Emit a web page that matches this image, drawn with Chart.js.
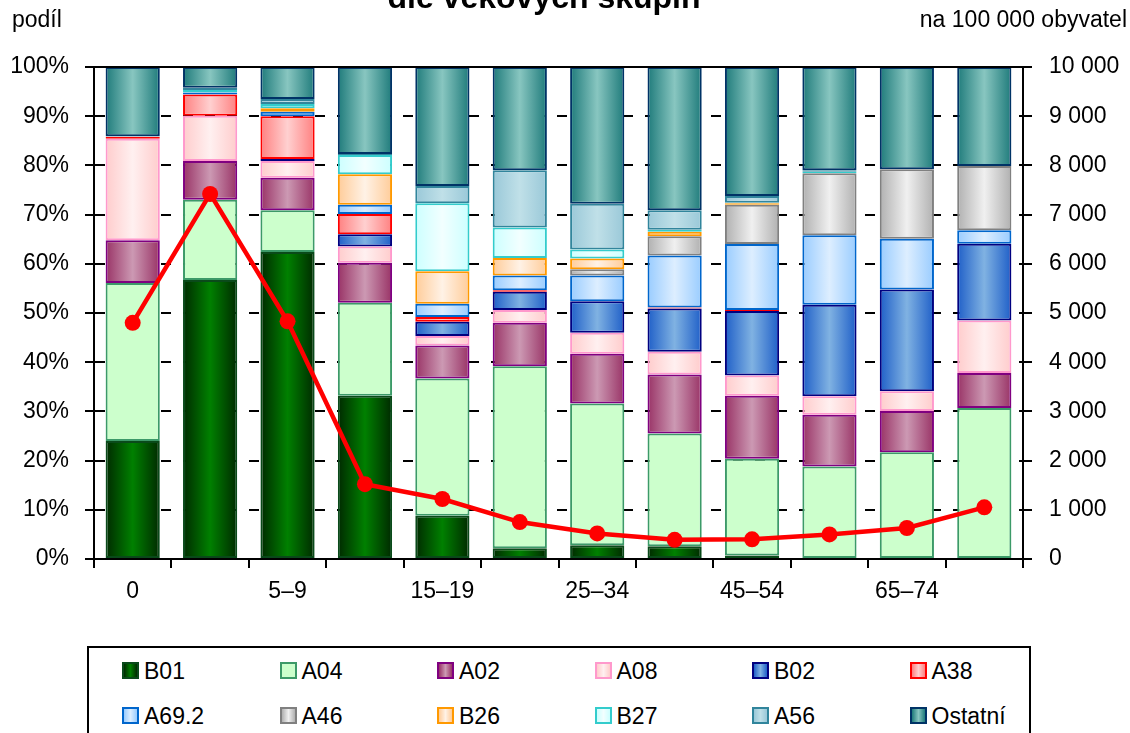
<!DOCTYPE html>
<html>
<head>
<meta charset="utf-8">
<script src="https://cdn.jsdelivr.net/npm/chart.js@4/dist/chart.umd.min.js"></script>
<style>
  html, body { margin:0; padding:0; background:#fff; }
  #wrap { position:relative; width:1130px; height:733px; overflow:hidden; font-family:"Liberation Sans", Arial, sans-serif; }
  #c { position:absolute; left:0; top:0; }
  #legend { position:absolute; left:87px; top:646px; width:944px; height:110px; border:2px solid #000; box-sizing:border-box; background:#fff; }
  .li { position:absolute; font-size:23px; line-height:23px; color:#000; white-space:nowrap; }
  .sw { display:inline-block; width:13px; height:13px; border:2px solid; vertical-align:middle; margin-right:5px; position:relative; top:-2px; }
</style>
</head>
<body>
<div id="wrap">
  <canvas id="c" width="1130" height="733"></canvas>
  <div id="legend"></div>
</div>
<script>
// ---- data ----
const categories = ['0','1–4','5–9','10–14','15–19','20–24','25–34','35–44','45–54','55–64','65–74','75+'];
const seriesNames = ['B01','A04','A02','A08','B02','A38','A69.2','A46','B26','B27','A56','Ostatní'];

const B01    = [24.0, 56.7, 62.4, 33.2,  8.8,  2.2,  2.8,  2.6,  0.7,  0.0,  0.0,  0.0];
const A04    = [32.1, 16.3,  8.5, 18.9, 27.9, 37.0, 28.8, 22.9, 19.7, 18.8, 21.7, 30.7];
const A02    = [ 8.7,  7.9,  6.6,  8.1,  6.7,  8.8, 10.1, 12.0, 12.8, 10.5,  8.4,  7.1];
const A08    = [20.6,  9.2,  3.4,  3.3,  1.9,  2.6,  4.3,  4.6,  4.1,  3.8,  4.0, 10.7];
const B02    = [ 0.0,  0.0,  0.4,  2.5,  2.9,  3.7,  6.4,  8.8, 13.1, 18.6, 20.7, 15.6];
const A38    = [ 0.4,  4.3,  8.7,  4.1,  1.0,  0.3,  0.0,  0.2,  0.2,  0.0,  0.0,  0.0];
const A69_2  = [ 0.0,  0.4,  0.9,  1.9,  2.7,  3.0,  5.2, 10.6, 13.4, 14.1, 10.3,  2.7];
const A46    = [ 0.0,  0.0,  0.0,  0.0,  0.0,  0.0,  1.3,  3.9,  8.0, 12.6, 14.1, 13.1];
const B26    = [ 0.0,  0.0,  0.7,  6.2,  6.6,  3.6,  2.2,  0.9,  0.3,  0.0,  0.0,  0.0];
const B27    = [ 0.0,  0.5,  0.9,  3.9, 13.8,  6.2,  1.8,  0.4,  0.1,  0.3,  0.0,  0.0];
const A56    = [ 0.1,  0.5,  1.0,  0.2,  3.5, 11.6,  9.3,  4.0,  1.4,  0.3,  0.0,  0.0];
const Ostatni= [14.1,  4.2,  6.5, 17.7, 24.2, 21.0, 27.8, 29.1, 26.2, 21.0, 20.8, 20.1];

const incidence = [4800, 7420, 4830, 1520, 1220, 750, 520, 390, 400, 500, 630, 1050];

const leftTicks = [0,10,20,30,40,50,60,70,80,90,100];
const rightTicks = [0,1000,2000,3000,4000,5000,6000,7000,8000,9000,10000];

// ---- styles ----
const styles = [
  {edge:'#002a00', mid:'#008000', border:'#0a4a1a'},
  {edge:'#ccffcc', mid:'#ccffcc', border:'#3c9a68'},
  {edge:'#993366', mid:'#cc99b3', border:'#800080'},
  {edge:'#ffcccc', mid:'#fff0f0', border:'#ff99cc'},
  {edge:'#1f5fc8', mid:'#80b2e2', border:'#000080'},
  {edge:'#ff8080', mid:'#ffd0d0', border:'#ff0000'},
  {edge:'#99ccff', mid:'#ddeeff', border:'#0066cc'},
  {edge:'#b0b0b0', mid:'#f0f0f0', border:'#808080'},
  {edge:'#ffcc99', mid:'#fff2e6', border:'#ff9900'},
  {edge:'#ccffff', mid:'#f2ffff', border:'#33cccc'},
  {edge:'#99c8d8', mid:'#c0e0e8', border:'#31859c'},
  {edge:'#1f7b7b', mid:'#88c6c0', border:'#003366'}
];
const seriesData = [B01,A04,A02,A08,B02,A38,A69_2,A46,B26,B27,A56,Ostatni];

const BAR_PCT = 0.7;
function gradFill(st){
  return function(ctx){
    const chart = ctx.chart;
    const area = chart.chartArea;
    if(!area || !chart.scales.x) return st.mid;
    const cx = chart.scales.x.getPixelForValue(ctx.dataIndex);
    const w = area.width / categories.length * BAR_PCT;
    const g = chart.ctx.createLinearGradient(cx - w/2, 0, cx + w/2, 0);
    g.addColorStop(0, st.edge);
    g.addColorStop(0.5, st.mid);
    g.addColorStop(1, st.edge);
    return g;
  };
}

const datasets = [{
  type:'line', label:'incidence', data: incidence, yAxisID:'y1',
  borderColor:'#ff0000', backgroundColor:'#ff0000', borderWidth:4.5,
  pointRadius:8, pointBackgroundColor:'#ff0000', pointBorderWidth:0,
  tension:0, order:0
}];
seriesNames.forEach((n,i)=>{
  datasets.push({
    type:'bar', label:n, data: seriesData[i], yAxisID:'y',
    backgroundColor: gradFill(styles[i]), borderColor: styles[i].border,
    borderWidth: ctx => (ctx.raw ? 2 : 0), borderSkipped:false, order:1,
    barPercentage: BAR_PCT, categoryPercentage: 1.0
  });
});

const FONT = {family:'"Liberation Sans", Arial, sans-serif', size:23};

const textPlugin = {
  id:'texts',
  afterDraw(chart){
    const c = chart.ctx;
    c.save();
    c.fillStyle = '#000';
    c.font = 'bold 32px "Liberation Sans", Arial, sans-serif';
    c.textAlign = 'center'; c.textBaseline = 'alphabetic';
    c.fillText('dle věkových skupin', 544, 8);
    c.font = '23px "Liberation Sans", Arial, sans-serif';
    c.textBaseline = 'middle';
    c.textAlign = 'left';
    c.fillText('podíl', 12, 21);
    c.textAlign = 'right';
    c.fillText('na 100 000 obyvatel', 1127, 21);
    // top frame line
    const a = chart.chartArea;
    c.strokeStyle = '#000'; c.lineWidth = 2;
    c.beginPath(); c.moveTo(a.left, a.top); c.lineTo(a.right + 9, a.top); c.stroke();
    c.restore();
  }
};

new Chart(document.getElementById('c'), {
  data: { labels: categories, datasets },
  options: {
    responsive:false, animation:false,
    layout:{ padding:{ top:67, left:0, right:0, bottom:0 } },
    plugins:{ legend:{display:false}, tooltip:{enabled:false}, title:{display:false} },
    scales:{
      x:{
        stacked:true, offset:true,
        grid:{ display:true, drawOnChartArea:false, drawTicks:true, tickLength:9, color:'#000', lineWidth:2, offset:true },
        border:{ display:true, color:'#000', width:2 },
        ticks:{ autoSkip:false, maxRotation:0, padding:10, color:'#000', font:FONT,
          callback:function(v,i){ return i % 2 === 0 ? categories[i] : ''; } },
        afterFit(s){ s.height = 174; }
      },
      y:{
        stacked:true, min:0, max:100, position:'left',
        afterBuildTicks(s){ s.ticks = leftTicks.map(v=>({value:v})); },
        grid:{ display:true, drawOnChartArea:true, drawTicks:true, tickLength:9, color:'#000', lineWidth:2 },
        border:{ display:true, color:'#000', width:2, dash:[10,12] },
        ticks:{ padding:16, color:'#000', font:FONT, callback:v=>v+'%' },
        afterFit(s){ s.width = 94; }
      },
      y1:{
        stacked:false, min:0, max:10000, position:'right',
        afterBuildTicks(s){ s.ticks = rightTicks.map(v=>({value:v})); },
        grid:{ display:true, drawOnChartArea:false, drawTicks:true, tickLength:9, color:'#000', lineWidth:2 },
        border:{ display:true, color:'#000', width:2 },
        ticks:{ padding:17, color:'#000', font:FONT,
          callback:v=>String(v).replace(/\B(?=(\d{3})+(?!\d))/g,' ') },
        afterFit(s){ s.width = 1130 - 1023; }
      }
    }
  },
  plugins:[textPlugin]
});

// ---- HTML legend ----
const legend = document.getElementById('legend');
seriesNames.forEach((n,i)=>{
  const row = Math.floor(i/6), col = i%6;
  const d = document.createElement('div');
  d.className = 'li';
  d.style.left = (33 + col*157.5) + 'px';
  d.style.top = (12 + row*45) + 'px';
  const st = styles[i];
  d.innerHTML = '<span class="sw" style="border-color:'+st.border+';background:linear-gradient(90deg,'+st.edge+','+st.mid+','+st.edge+')"></span>' + n;
  legend.appendChild(d);
});
</script>
</body>
</html>
